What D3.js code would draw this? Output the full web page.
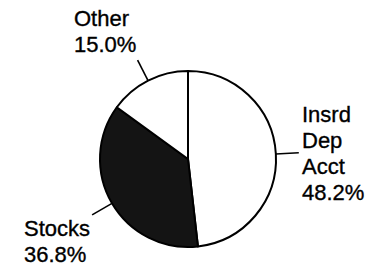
<!DOCTYPE html>
<html><head><meta charset="utf-8">
<script src="https://cdn.jsdelivr.net/npm/d3@7"></script>
<style>html,body{margin:0;padding:0;background:#fff;}svg{display:block;}</style>
</head><body>
<script>
const categories = ["Insrd Dep Acct", "Stocks", "Other"];
const values = [48.2, 36.8, 15.0];
const labelLines = [["Insrd", "Dep", "Acct", "48.2%"], ["Stocks", "36.8%"], ["Other", "15.0%"]];
const fills = ["#ffffff", "#141414", "#ffffff"];

const W = 377, H = 266, cx = 188, cy = 159, r = 88;
const svg = d3.select("body").append("svg").attr("width", W).attr("height", H);
const g = svg.append("g").attr("transform", `translate(${cx},${cy})`);

const pie = d3.pie().sort(null).value(d => d)(values);
const arc = d3.arc().innerRadius(0).outerRadius(r);

g.selectAll("path.slice").data(pie).join("path")
  .attr("class", "slice")
  .attr("d", arc)
  .attr("fill", (d, i) => fills[i])
  .attr("stroke", "#000").attr("stroke-width", 2).attr("stroke-linejoin", "round");

// leader lines
const inner = d3.arc().innerRadius(r).outerRadius(r);
const outer = d3.arc().innerRadius(r + 23).outerRadius(r + 23);
g.selectAll("line.lead").data(pie).join("line")
  .attr("class", "lead")
  .attr("x1", d => inner.centroid(d)[0]).attr("y1", d => inner.centroid(d)[1])
  .attr("x2", d => outer.centroid(d)[0]).attr("y2", d => outer.centroid(d)[1])
  .attr("stroke", "#000").attr("stroke-width", 1.6);

// labels (anchor positions in page coordinates)
const labelPos = [[302, 121.5], [24, 235.5], [74, 26]];
const lineH = 26;
labelLines.forEach((lines, i) => {
  const t = svg.append("text")
    .attr("font-family", "Liberation Sans, Arial, Helvetica, sans-serif")
    .attr("font-size", 22).attr("fill", "#000")
    .attr("stroke", "#000").attr("stroke-width", 0.35);
  lines.forEach((s, k) => {
    t.append("tspan").attr("x", labelPos[i][0]).attr("y", labelPos[i][1] + k * lineH).text(s);
  });
});
</script>
</body></html>
